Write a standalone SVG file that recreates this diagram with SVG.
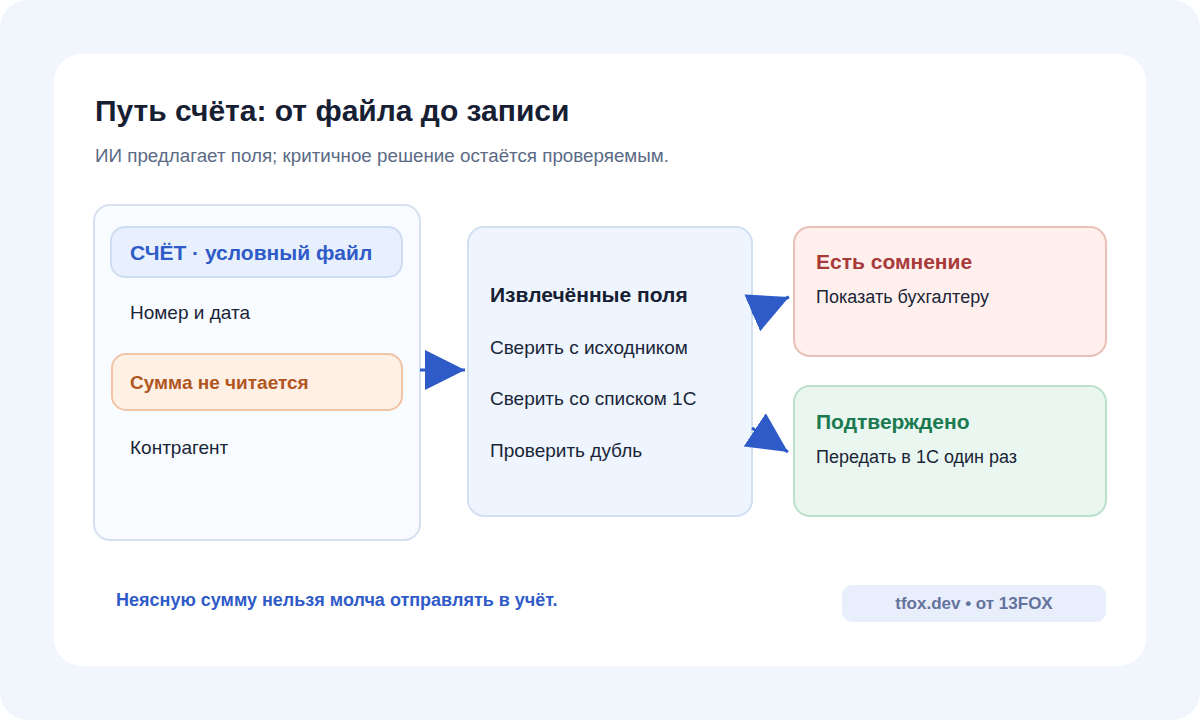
<svg xmlns="http://www.w3.org/2000/svg" width="1200" height="720" viewBox="0 0 1200 720">
<defs>
<style>
text{font-family:"Liberation Sans",Arial,sans-serif;}
.title{font-size:30px;font-weight:bold;fill:#172033;}
.sub{font-size:18.8px;fill:#5b6b85;}
.item{font-size:19px;fill:#1a2538;}
.hd{font-size:21px;font-weight:bold;}
.conn{stroke:#2f5bc9;stroke-width:3;fill:none;}
</style>
<marker id="ah" markerUnits="userSpaceOnUse" markerWidth="40" markerHeight="40" refX="40" refY="20" orient="auto" viewBox="0 0 40 40">
<path d="M0,0 L40,20 L0,40 z" fill="#2f5bc9"/>
</marker>
</defs>
<rect x="0" y="0" width="1200" height="720" rx="28" fill="#f1f5fc"/>
<rect x="54" y="54" width="1092" height="612" rx="28" fill="#ffffff"/>
<text class="title" x="95" y="121">Путь счёта: от файла до записи</text>
<text class="sub" x="95" y="162">ИИ предлагает поля; критичное решение остаётся проверяемым.</text>

<g id="source">
<rect x="94" y="205" width="326" height="335" rx="16" fill="#f8fbff" stroke="#d5e1f0" stroke-width="2"/>
<rect x="111" y="227" width="291" height="50" rx="14" fill="#e8f0fd" stroke="#cfdcf2" stroke-width="2"/>
<text class="hd" x="130" y="260" fill="#2f5bc9">СЧЁТ · условный файл</text>
<text class="item" x="130" y="319">Номер и дата</text>
<rect x="112" y="354" width="290" height="56" rx="14" fill="#fff0e6" stroke="#f0c4a4" stroke-width="2"/>
<text x="130" y="389" style="font-size:19px;font-weight:bold;fill:#b0561e">Сумма не читается</text>
<text class="item" x="130" y="454">Контрагент</text>
</g>

<g id="extracted">
<rect x="468" y="227" width="284" height="289" rx="16" fill="#eef5fe" stroke="#d3e0f0" stroke-width="2"/>
<text class="hd" x="490" y="302" fill="#172033">Извлечённые поля</text>
<text class="item" x="490" y="354">Сверить с исходником</text>
<text class="item" x="490" y="405">Сверить со списком 1С</text>
<text class="item" x="490" y="457">Проверить дубль</text>
</g>

<g id="doubt">
<rect x="794" y="227" width="312" height="129" rx="16" fill="#fff0ee" stroke="#e8c0b8" stroke-width="2"/>
<text class="hd" x="816" y="269" fill="#a83a3a">Есть сомнение</text>
<text class="item" x="816" y="303" style="font-size:18px">Показать бухгалтеру</text>
</g>

<g id="confirmed">
<rect x="794" y="386" width="312" height="130" rx="16" fill="#eaf7f1" stroke="#bde0cc" stroke-width="2"/>
<text class="hd" x="816" y="429" fill="#1b7a50">Подтверждено</text>
<text class="item" x="816" y="463" style="font-size:18px">Передать в 1С один раз</text>
</g>

<g id="connectors">
<line class="conn" x1="420" y1="370" x2="465" y2="370" marker-end="url(#ah)"/>
<line class="conn" x1="752" y1="313" x2="789" y2="297" marker-end="url(#ah)"/>
<line class="conn" x1="752" y1="428" x2="788" y2="452" marker-end="url(#ah)"/>
</g>

<text x="116" y="606" style="font-size:18px;font-weight:bold;fill:#2f5bc9">Неясную сумму нельзя молча отправлять в учёт.</text>
<g id="badge">
<rect x="842" y="585" width="264" height="37" rx="10" fill="#e9eefc"/>
<text x="974" y="609" text-anchor="middle" style="font-size:17px;font-weight:bold;fill:#64739b">tfox.dev • от 13FOX</text>
</g>
</svg>
